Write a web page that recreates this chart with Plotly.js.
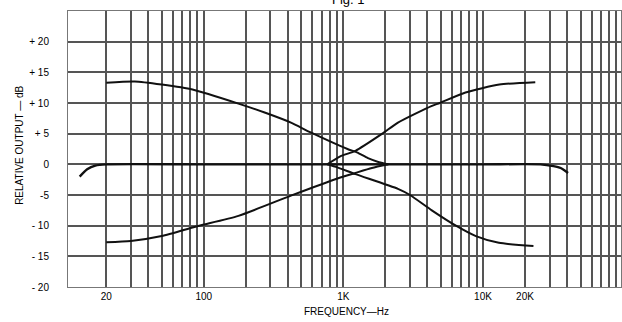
<!DOCTYPE html>
<html>
<head>
<meta charset="utf-8">
<script src="https://cdn.plot.ly/plotly-3.0.1.min.js"></script>
<style>html,body{margin:0;padding:0;background:#fff;}#chart{width:622px;height:322px;}</style>
</head>
<body>
<div id="chart"></div>
<script>
// Frequency (Hz) and relative output (dB)
const flatFreq = [12.9, 14.6, 16.7, 20, 100, 1000, 10000, 25800, 32000, 36000, 40700];
const flatDb   = [-2.0, -0.8, -0.2, 0, 0, 0, 0, 0, -0.3, -0.6, -1.4];

const bassBoostFreq = [20, 32, 50, 83, 177, 276, 421, 583, 1070, 1250, 1500, 1800, 2100];
const bassBoostDb   = [13.3, 13.5, 13.0, 12.2, 9.9, 8.4, 6.8, 5.2, 2.5, 1.95, 1.0, 0.35, 0];

const bassCutFreq = [20, 30, 50, 83, 97, 177, 421, 906, 1220, 1600, 2100];
const bassCutDb   = [-12.7, -12.5, -11.7, -10.3, -9.9, -8.4, -5.1, -2.3, -1.4, -0.6, 0];

const trebleBoostFreq = [766, 950, 1220, 1900, 2460, 4270, 4900, 7500, 13100, 23700];
const trebleBoostDb   = [0, 1.3, 2.2, 5.0, 6.8, 9.5, 10.0, 11.7, 13.0, 13.4];

const trebleCutFreq = [766, 905, 1220, 2460, 3000, 4300, 6400, 8900, 13000, 23000];
const trebleCutDb   = [0, -0.5, -1.6, -4.0, -5.0, -7.5, -10.0, -11.7, -12.8, -13.3];

// grid / tick values
const xGridVals = [];
[10, 100, 1000, 10000].forEach(d => { for (let k = 1; k <= 9; k++) xGridVals.push(k * d); });
xGridVals.push(100000);
const xLabelMap = {20: '20', 100: '100', 1000: '1K', 10000: '10K', 20000: '20K'};
const xTickText = xGridVals.map(v => xLabelMap[v] || '');

const yTickVals = [-20, -15, -10, -5, 0, 5, 10, 15, 20, 25];
const yTickText = ['- 20', '- 15', '- 10', '-5', '0', '+ 5', '+ 10', '+ 15', '+ 20', ''];

const lineStyle = {color: '#111', width: 2, shape: 'spline', smoothing: 0.6};
function tr(x, y, w) {
  return {x: x, y: y, type: 'scatter', mode: 'lines', line: Object.assign({}, lineStyle, w ? {width: w} : {}), hoverinfo: 'skip', showlegend: false};
}
const data = [
  tr(flatFreq, flatDb, 2.4),
  tr(bassBoostFreq, bassBoostDb),
  tr(bassCutFreq, bassCutDb),
  tr(trebleBoostFreq, trebleBoostDb),
  tr(trebleCutFreq, trebleCutDb)
];

const font = {family: 'Liberation Sans, Arial, sans-serif', color: '#000'};
const layout = {
  width: 622, height: 322,
  margin: {l: 68, r: 1, t: 11, b: 35},
  paper_bgcolor: '#fff', plot_bgcolor: '#fff',
  font: font,
  xaxis: {
    type: 'log', range: [1.027, 4.989],
    tickmode: 'array', tickvals: xGridVals, ticktext: xTickText,
    showgrid: true, gridcolor: '#555', gridwidth: 2,
    zeroline: false, ticks: '', showline: true, linecolor: '#777', linewidth: 1, mirror: true,
    tickfont: {size: 10, family: font.family, color: '#000'},
    fixedrange: true
  },
  yaxis: {
    range: [-20, 25],
    tickmode: 'array', tickvals: yTickVals, ticktext: yTickText,
    showgrid: true, gridcolor: '#555', gridwidth: 2,
    zeroline: false, ticks: '', showline: true, linecolor: '#777', linewidth: 1, mirror: true,
    tickfont: {size: 10, family: font.family, color: '#000'},
    ticklabelstandoff: 16,
    fixedrange: true
  },
  annotations: [
    {text: 'RELATIVE OUTPUT — dB', xref: 'paper', yref: 'paper', x: -0.0868, y: 0.515,
     xanchor: 'center', yanchor: 'middle', textangle: -90, showarrow: false,
     font: {size: 10, family: font.family, color: '#000'}},
    {text: 'FREQUENCY—Hz', xref: 'paper', yref: 'paper', x: 0.5045, y: -0.0886,
     xanchor: 'center', yanchor: 'middle', showarrow: false,
     font: {size: 10, family: font.family, color: '#000'}},
    {text: 'Fig. 1', xref: 'paper', yref: 'paper', x: 0.507, y: 1.04,
     xanchor: 'center', yanchor: 'middle', showarrow: false,
     font: {size: 13, family: font.family, color: '#000'}}
  ]
};

Plotly.newPlot('chart', data, layout, {displayModeBar: false, staticPlot: true});
</script>
</body>
</html>
